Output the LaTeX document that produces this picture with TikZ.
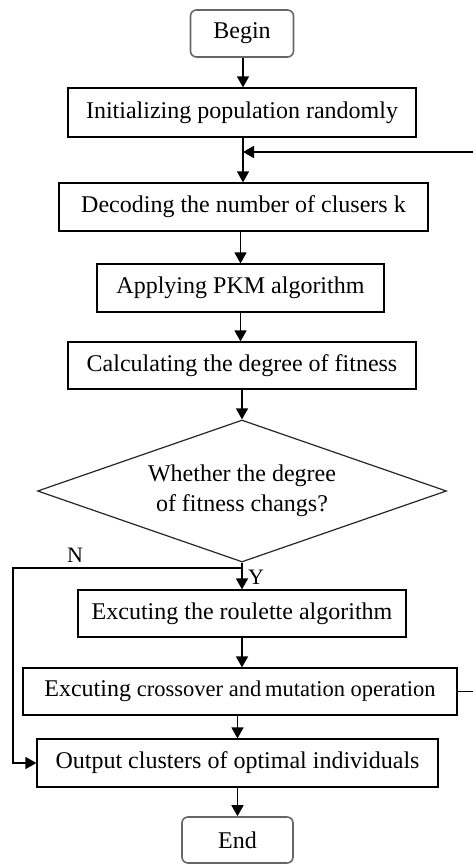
\documentclass[tikz,border=0pt]{standalone}
\usepackage{fontspec}
\setmainfont{Liberation Serif}
\usetikzlibrary{shapes.geometric,arrows.meta}
\begin{document}
\begin{tikzpicture}[x=1pt,y=-1pt,
  every node/.style={font=\fontsize{24}{28}\selectfont, inner sep=0pt, align=center},
  procbox/.style={draw=black, line width=1.2pt, rectangle},
  termbox/.style={draw=black!60, line width=1.6pt, rectangle, rounded corners=6pt},
  decbox/.style={draw=black!85, line width=1.2pt, diamond, aspect=2.88},
  flow/.style={draw=black, line width=1.4pt, -{Triangle[width=12pt,length=11pt]}},
  plain/.style={draw=black, line width=1.2pt},
  lbl/.style={font=\fontsize{22}{26}\selectfont}]
\useasboundingbox (0,0) rectangle (472,864);
\node[termbox, minimum width=103pt, minimum height=47pt] (begin) at (242,33.5) {Begin};
\node[procbox, minimum width=348pt, minimum height=49pt] (init) at (242,112.5) {Initializing population randomly};
\node[procbox, minimum width=369pt, minimum height=48pt] (dec) at (243.5,207) {Decoding the number of clusers k};
\node[procbox, minimum width=287pt, minimum height=48pt] (pkm) at (240.5,288) {Applying PKM algorithm};
\node[procbox, minimum width=348pt, minimum height=47pt] (calc) at (242,365.5) {Calculating the degree of fitness};
\node[decbox, minimum width=409pt, minimum height=142pt] (dia) at (242,491) {Whether the degree\\[2pt]of fitness changs?};
\node[procbox, minimum width=328pt, minimum height=47pt] (roul) at (242,613.5) {Excuting the roulette algorithm};
\node[procbox, minimum width=434pt, minimum height=47pt] (cross) at (240,691.5) {Excuting {\fontsize{22.5}{26}\selectfont crossover and\,mutation operation}};
\node[procbox, minimum width=401pt, minimum height=48pt] (out) at (237.5,763) {Output clusters of optimal individuals};
\node[termbox, minimum width=111pt, minimum height=46pt] (end) at (237.5,840) {End};
\node[lbl] (nlab) at (75,555) {N};
\node[lbl] (ylab) at (256,577) {Y};
\coordinate (junc) at (243,152);
\coordinate (nleft) at (13,568);
\coordinate (rright) at (474,691.5);
\draw[flow] (begin.south -| junc) -- (init.north -| junc);
\draw[flow] (init.south -| junc) -- (dec.north -| junc);
\draw[flow] (rright) -- (rright |- junc) -- (junc);
\draw[plain] (cross.east) -- (rright);
\draw[flow] (dec.south -| pkm) -- (pkm.north);
\draw[flow] (pkm.south) -- (pkm.south |- calc.north);
\draw[flow] (calc.south) -- (calc.south |- dia.north);
\draw[flow] (dia.south) -- (roul.north);
\draw[flow] (dia.south) -- (dia.south |- nleft) -- (nleft) -- (nleft |- out.west) -- (out.west);
\draw[flow] (roul.south) -- (roul.south |- cross.north);
\draw[flow] (cross.south -| out) -- (out.north);
\draw[flow] (out.south) -- (end.north);
\end{tikzpicture}
\end{document}
